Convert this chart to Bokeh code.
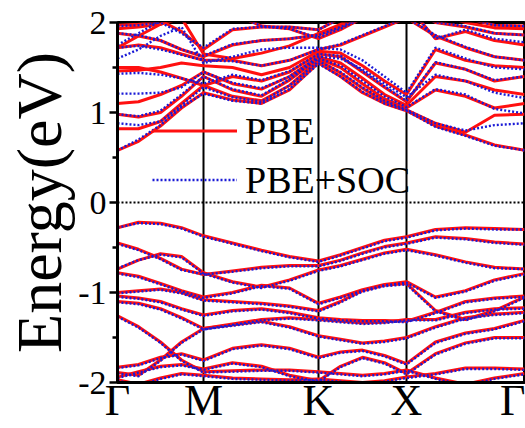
from bokeh.plotting import figure
from bokeh.models import FixedTicker, Span, Legend, LegendItem, Range1d
from bokeh.embed import file_html
from bokeh.resources import INLINE

# k-path sample positions (path length units) and high-symmetry points
k_path = [0, 21, 43, 64, 86, 115, 144, 172, 201, 223, 245, 267, 289, 318, 348, 377, 407]
hs_pos = [0, 86, 201, 289, 407]
hs_labels = ["Γ", "M", "K", "X", "Γ"]
y_ticks = [-2, -1, 0, 1, 2]
y_minor = [-1.5, -0.5, 0.5, 1.5]
y_tick_labels = ["-2", "-1", "0", "1", "2"]

# PBE conduction bands (eV)
pbe_c1 = [0.58, 0.68, 0.85, 1.05, 1.22, 1.14, 1.10, 1.25, 1.55, 1.40, 1.22, 1.10, 1.02, 0.85, 0.75, 0.64, 0.58]
pbe_c2 = [0.82, 0.82, 0.90, 1.10, 1.30, 1.18, 1.13, 1.30, 1.58, 1.44, 1.27, 1.12, 1.03, 0.88, 0.78, 0.97, 0.98]
pbe_c3 = [0.98, 0.95, 1.00, 1.18, 1.40, 1.25, 1.18, 1.36, 1.60, 1.50, 1.32, 1.15, 1.05, 1.25, 1.18, 1.05, 1.10]
pbe_c4 = [1.10, 1.12, 1.20, 1.30, 1.45, 1.32, 1.26, 1.40, 1.62, 1.55, 1.38, 1.20, 1.08, 1.40, 1.35, 1.25, 1.20]
pbe_c5 = [1.50, 1.50, 1.45, 1.38, 1.30, 1.40, 1.35, 1.45, 1.65, 1.62, 1.45, 1.28, 1.12, 1.55, 1.48, 1.35, 1.40]
pbe_c6 = [1.46, 1.47, 1.50, 1.55, 1.52, 1.50, 1.42, 1.50, 1.68, 1.66, 1.52, 1.35, 1.20, 1.70, 1.58, 1.52, 1.50]
pbe_c7 = [1.72, 1.75, 1.72, 1.65, 1.58, 1.58, 1.52, 1.58, 1.70, 1.75, 1.85, 1.95, 2.05, 1.85, 1.72, 1.62, 1.58]
pbe_c8 = [1.72, 1.85, 1.98, 2.10, 2.20, 2.10, 1.96, 1.93, 1.82, 1.92, 2.05, 2.15, 2.20, 1.82, 1.90, 1.80, 1.75]
pbe_c9 = [1.88, 1.85, 1.80, 1.70, 1.62, 1.75, 1.80, 1.82, 1.86, 1.95, 2.05, 2.15, 2.20, 2.00, 1.95, 1.88, 1.86]
pbe_c10 = [1.97, 1.98, 2.02, 1.90, 1.70, 1.92, 1.95, 1.95, 1.92, 2.05, 2.20, 2.20, 2.20, 2.20, 2.05, 1.97, 1.96]
pbe_c11 = [1.93, 1.95, 1.98, 2.05, 1.65, 1.60, 1.66, 1.74, 1.88, 1.98, 2.10, 2.20, 2.20, 2.10, 2.00, 1.94, 1.93]

# PBE valence bands (eV)
pbe_v1 = [-0.28, -0.22, -0.23, -0.28, -0.37, -0.45, -0.53, -0.60, -0.65, -0.58, -0.50, -0.42, -0.38, -0.30, -0.28, -0.29, -0.30]
pbe_v2 = [-0.45, -0.52, -0.62, -0.74, -0.80, -0.76, -0.72, -0.70, -0.70, -0.64, -0.56, -0.49, -0.45, -0.38, -0.40, -0.44, -0.46]
pbe_v3 = [-0.74, -0.64, -0.57, -0.60, -0.78, -0.88, -0.94, -0.86, -0.75, -0.70, -0.63, -0.56, -0.52, -0.58, -0.66, -0.72, -0.74]
pbe_v4 = [-0.78, -0.82, -0.90, -0.98, -1.05, -1.00, -0.92, -0.95, -1.12, -1.05, -0.97, -0.91, -0.88, -1.05, -0.98, -0.86, -0.79]
pbe_v5 = [-1.00, -0.98, -0.96, -1.00, -1.08, -1.10, -1.12, -1.15, -1.20, -1.10, -0.98, -0.92, -0.90, -1.20, -1.30, -1.20, -1.05]
pbe_v6 = [-1.04, -1.06, -1.10, -1.18, -1.25, -1.20, -1.18, -1.22, -1.28, -1.30, -1.31, -1.31, -1.32, -1.22, -1.10, -1.06, -1.04]
pbe_v7 = [-1.10, -1.12, -1.18, -1.28, -1.40, -1.35, -1.30, -1.28, -1.30, -1.32, -1.34, -1.33, -1.30, -1.30, -1.22, -1.18, -1.17]
pbe_v8 = [-1.26, -1.38, -1.55, -1.75, -1.88, -1.87, -1.86, -1.86, -1.88, -1.90, -1.92, -1.90, -1.86, -1.95, -2.02, -1.95, -1.90]
pbe_v9 = [-1.89, -1.92, -1.75, -1.55, -1.40, -1.36, -1.32, -1.38, -1.48, -1.52, -1.56, -1.54, -1.50, -1.38, -1.28, -1.24, -1.22]
pbe_v10 = [-1.83, -1.80, -1.72, -1.68, -1.75, -1.62, -1.58, -1.62, -1.72, -1.66, -1.64, -1.70, -1.79, -1.55, -1.45, -1.40, -1.31]
pbe_v11 = [-1.94, -1.88, -1.82, -1.80, -1.85, -1.78, -1.82, -1.92, -1.98, -1.82, -1.72, -1.78, -1.90, -1.68, -1.56, -1.50, -1.50]
pbe_v12 = [-1.97, -2.02, -1.95, -1.90, -1.92, -1.95, -1.96, -1.97, -1.96, -1.98, -2.00, -1.98, -1.94, -1.90, -1.84, -1.84, -1.85]

# PBE+SOC conduction bands (eV)
soc_c1 = [0.58, 0.70, 0.86, 1.06, 1.21, 1.13, 1.10, 1.26, 1.54, 1.40, 1.23, 1.10, 1.02, 0.84, 0.74, 0.63, 0.58]
soc_c2 = [0.88, 0.86, 0.90, 1.08, 1.28, 1.17, 1.12, 1.30, 1.57, 1.45, 1.28, 1.13, 1.03, 0.88, 0.80, 0.86, 0.88]
soc_c3 = [0.98, 0.96, 1.02, 1.20, 1.40, 1.26, 1.19, 1.37, 1.60, 1.52, 1.35, 1.18, 1.06, 1.26, 1.20, 1.04, 0.99]
soc_c4 = [1.21, 1.21, 1.22, 1.28, 1.45, 1.33, 1.27, 1.40, 1.62, 1.60, 1.48, 1.32, 1.17, 1.42, 1.35, 1.22, 1.16]
soc_c5 = [1.43, 1.44, 1.42, 1.38, 1.32, 1.42, 1.36, 1.46, 1.65, 1.63, 1.46, 1.29, 1.13, 1.56, 1.48, 1.36, 1.40]
soc_c6 = [1.60, 1.70, 1.85, 1.95, 1.55, 1.62, 1.70, 1.72, 1.72, 1.70, 1.58, 1.40, 1.22, 1.72, 1.60, 1.50, 1.48]
soc_c7 = [1.72, 1.74, 1.70, 1.64, 1.58, 1.57, 1.52, 1.58, 1.70, 1.76, 1.86, 1.96, 2.05, 1.86, 1.73, 1.62, 1.58]
soc_c8 = [1.75, 1.88, 2.02, 2.10, 2.20, 2.10, 1.96, 1.93, 1.83, 1.93, 2.05, 2.15, 2.20, 1.82, 1.92, 1.82, 1.78]
soc_c9 = [1.88, 1.86, 1.80, 1.70, 1.63, 1.76, 1.80, 1.82, 1.86, 1.95, 2.05, 2.15, 2.20, 2.00, 1.96, 1.88, 1.86]
soc_c10 = [1.96, 1.97, 2.00, 1.88, 1.72, 1.93, 1.95, 1.95, 1.92, 2.05, 2.20, 2.20, 2.20, 2.20, 2.05, 1.97, 1.96]

# PBE+SOC valence bands (eV)
soc_v1 = [-0.28, -0.23, -0.24, -0.29, -0.38, -0.46, -0.54, -0.61, -0.66, -0.59, -0.51, -0.43, -0.39, -0.31, -0.29, -0.30, -0.30]
soc_v2 = [-0.46, -0.53, -0.63, -0.75, -0.80, -0.77, -0.73, -0.71, -0.71, -0.65, -0.57, -0.50, -0.46, -0.39, -0.41, -0.45, -0.47]
soc_v3 = [-0.73, -0.64, -0.58, -0.61, -0.79, -0.89, -0.95, -0.87, -0.76, -0.71, -0.64, -0.57, -0.53, -0.59, -0.67, -0.73, -0.74]
soc_v4 = [-0.79, -0.83, -0.91, -0.99, -1.06, -1.01, -0.93, -0.96, -1.13, -1.06, -0.98, -0.92, -0.89, -1.06, -0.99, -0.87, -0.80]
soc_v5 = [-1.01, -0.99, -0.97, -1.01, -1.09, -1.11, -1.13, -1.16, -1.21, -1.11, -0.99, -0.93, -0.91, -1.21, -1.31, -1.21, -1.06]
soc_v6 = [-1.05, -1.07, -1.11, -1.19, -1.26, -1.21, -1.19, -1.23, -1.29, -1.31, -1.32, -1.32, -1.33, -1.23, -1.11, -1.07, -1.05]
soc_v7 = [-1.11, -1.13, -1.19, -1.29, -1.41, -1.36, -1.31, -1.29, -1.31, -1.33, -1.35, -1.34, -1.31, -1.31, -1.23, -1.19, -1.18]
soc_v8 = [-1.27, -1.39, -1.56, -1.76, -1.89, -1.88, -1.87, -1.87, -1.89, -1.91, -1.93, -1.91, -1.87, -1.96, -2.03, -1.96, -1.91]
soc_v9 = [-1.90, -1.93, -1.76, -1.56, -1.41, -1.37, -1.33, -1.39, -1.49, -1.53, -1.57, -1.55, -1.51, -1.39, -1.29, -1.25, -1.23]
soc_v10 = [-1.84, -1.81, -1.73, -1.69, -1.76, -1.63, -1.59, -1.63, -1.73, -1.67, -1.65, -1.71, -1.80, -1.56, -1.46, -1.41, -1.32]
soc_v11 = [-1.95, -1.89, -1.83, -1.81, -1.86, -1.79, -1.83, -1.93, -1.99, -1.83, -1.73, -1.79, -1.91, -1.69, -1.57, -1.51, -1.51]
soc_v12 = [-1.98, -2.03, -1.96, -1.91, -1.93, -1.96, -1.97, -1.98, -1.97, -1.99, -2.01, -1.99, -1.95, -1.91, -1.85, -1.85, -1.86]

pbe_bands = [pbe_c1, pbe_c2, pbe_c3, pbe_c4, pbe_c5, pbe_c6, pbe_c7, pbe_c8, pbe_c9, pbe_c10, pbe_c11,
             pbe_v1, pbe_v2, pbe_v3, pbe_v4, pbe_v5, pbe_v6, pbe_v7, pbe_v8, pbe_v9, pbe_v10, pbe_v11, pbe_v12]
soc_bands = [soc_c1, soc_c2, soc_c3, soc_c4, soc_c5, soc_c6, soc_c7, soc_c8, soc_c9, soc_c10,
             soc_v1, soc_v2, soc_v3, soc_v4, soc_v5, soc_v6, soc_v7, soc_v8, soc_v9, soc_v10, soc_v11, soc_v12]

SERIF = "Liberation Serif"

p = figure(width=525, height=428, output_backend="svg", toolbar_location=None,
           x_range=Range1d(hs_pos[0], hs_pos[-1]), y_range=Range1d(-2, 2),
           min_border_left=117, min_border_right=1, min_border_top=22, min_border_bottom=46)

p.xgrid.visible = False
p.ygrid.visible = False
p.outline_line_color = "black"
p.outline_line_width = 3
p.background_fill_color = "white"
p.border_fill_color = "white"

# vertical high-symmetry lines
for xv in hs_pos[1:-1]:
    p.add_layout(Span(location=xv, dimension="height", line_color="black", line_width=2, level="underlay"))
# Fermi level
p.add_layout(Span(location=0, dimension="width", line_color="black", line_width=1.8, line_dash="2 2"))

r_pbe = p.multi_line(xs=[k_path] * len(pbe_bands), ys=pbe_bands, line_color="#ff1010", line_width=3)
r_soc = p.multi_line(xs=[k_path] * len(soc_bands), ys=soc_bands, line_color="#1a1ad6", line_width=2.4, line_dash="2 2")

legend = Legend(items=[LegendItem(label="PBE", renderers=[r_pbe]),
                       LegendItem(label="PBE+SOC", renderers=[r_soc])],
                location=(35, 178), glyph_width=85, glyph_height=49,
                label_text_font=SERIF, label_text_font_size="38px", label_text_color="black",
                background_fill_alpha=0, border_line_alpha=0, padding=0, margin=0, spacing=0,
                label_standoff=8)
p.add_layout(legend)

# axes
p.xaxis.ticker = FixedTicker(ticks=hs_pos)
p.xaxis.major_label_overrides = {hs_pos[i]: hs_labels[i] for i in range(len(hs_pos))}
p.xaxis.major_tick_line_color = None
p.xaxis.minor_tick_line_color = None
p.xaxis.major_tick_out = 0
p.xaxis.major_tick_in = 0
p.xaxis.axis_line_width = 3
p.xaxis.major_label_text_font = SERIF
p.xaxis.major_label_text_font_size = "44px"
p.xaxis.major_label_text_color = "black"
p.xaxis.major_label_standoff = -7

p.yaxis.ticker = FixedTicker(ticks=y_ticks, minor_ticks=y_minor)
p.yaxis.major_label_overrides = {y_ticks[i]: y_tick_labels[i] for i in range(len(y_ticks))}
p.yaxis.axis_line_width = 3
p.yaxis.major_tick_out = 8
p.yaxis.major_tick_in = 0
p.yaxis.major_tick_line_width = 2.5
p.yaxis.minor_tick_out = 5
p.yaxis.minor_tick_in = 0
p.yaxis.minor_tick_line_width = 2.5
p.yaxis.major_label_text_font = SERIF
p.yaxis.major_label_text_font_size = "34px"
p.yaxis.major_label_text_color = "black"
p.yaxis.major_label_standoff = 3
p.yaxis.axis_label = "Energy(eV)"
p.yaxis.axis_label_text_font = SERIF
p.yaxis.axis_label_text_font_size = "64px"
p.yaxis.axis_label_text_font_style = "normal"
p.yaxis.axis_label_text_color = "black"
p.yaxis.axis_label_standoff = 0

open("out.html", "w").write(file_html(p, INLINE))
